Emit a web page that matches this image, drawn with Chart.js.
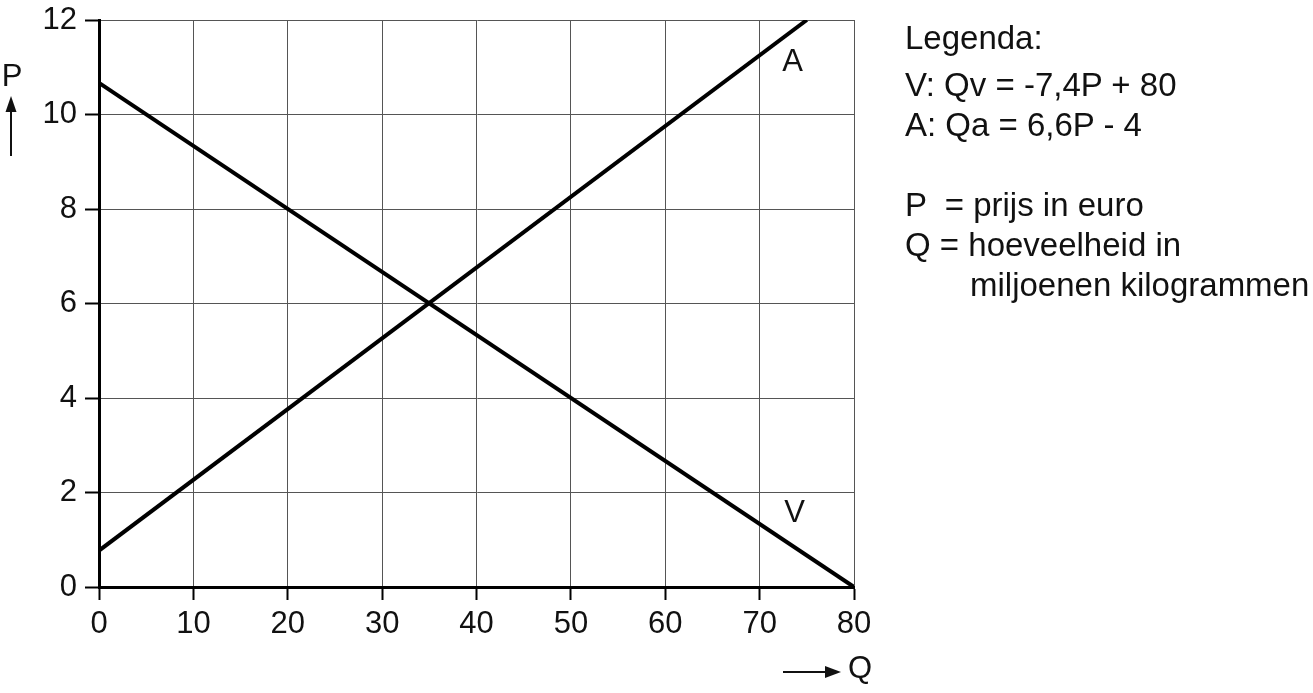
<!DOCTYPE html>
<html><head><meta charset="utf-8">
<script src="https://cdn.jsdelivr.net/npm/chart.js@4/dist/chart.umd.min.js"></script>
<style>
html,body{margin:0;padding:0;background:#fff;}
#wrap{position:relative;width:1313px;height:693px;}
canvas{position:absolute;left:0;top:0;}
.leg{position:absolute;font-family:"Liberation Sans",Arial,sans-serif;font-size:33px;color:#111;white-space:pre;line-height:40px;}
</style></head>
<body>
<div id="wrap">
<canvas id="c" width="1313" height="693"></canvas>
<div class="leg" style="left:905px;top:18px;">Legenda:</div>
<div class="leg" style="left:905px;top:65px;">V: Qv = -7,4P + 80
A: Qa = 6,6P - 4

P  = prijs in euro
Q = hoeveelheid in</div>
<div class="leg" style="left:970px;top:265px;">miljoenen kilogrammen</div>
</div>
<script>
// Data
const qV = [0, 80];
const pV = [10.67, 0];
const qA = [0, 75];
const pA = [0.77, 12];
const xTicks = [0, 10, 20, 30, 40, 50, 60, 70, 80];
const yTicks = [0, 2, 4, 6, 8, 10, 12];
const curveLabels = ["A", "V"];
const curveLabelPos = [[73.5, 11.1], [73.7, 1.55]];

const FONT = '"Liberation Sans", Arial, sans-serif';

const annot = {
  id: 'annot',
  afterDraw(chart) {
    const ctx = chart.ctx;
    const xs = chart.scales.x, ys = chart.scales.y;
    ctx.save();
    ctx.fillStyle = '#111';
    ctx.strokeStyle = '#111';
    ctx.font = '31px ' + FONT;
    ctx.textAlign = 'center';
    ctx.textBaseline = 'middle';
    curveLabels.forEach((t, i) => {
      ctx.fillText(t, xs.getPixelForValue(curveLabelPos[i][0]), ys.getPixelForValue(curveLabelPos[i][1]));
    });
    // P label with up arrow
    ctx.fillText('P', 12, 77);
    ctx.lineWidth = 2;
    ctx.beginPath(); ctx.moveTo(11, 156); ctx.lineTo(11, 108); ctx.stroke();
    ctx.beginPath(); ctx.moveTo(11, 96); ctx.lineTo(5.5, 112); ctx.lineTo(16.5, 112); ctx.closePath(); ctx.fill();
    // Q label with right arrow
    ctx.fillText('Q', 860, 669);
    ctx.beginPath(); ctx.moveTo(783, 672); ctx.lineTo(830, 672); ctx.stroke();
    ctx.beginPath(); ctx.moveTo(841, 672); ctx.lineTo(825, 666); ctx.lineTo(825, 678); ctx.closePath(); ctx.fill();
    ctx.restore();
  }
};

new Chart(document.getElementById('c'), {
  type: 'scatter',
  data: {
    datasets: [
      { label: 'V', data: qV.map((q, i) => ({x: q, y: pV[i]})), showLine: true, borderColor: '#000', borderWidth: 4, pointRadius: 0 },
      { label: 'A', data: qA.map((q, i) => ({x: q, y: pA[i]})), showLine: true, borderColor: '#000', borderWidth: 4, pointRadius: 0 }
    ]
  },
  options: {
    responsive: false,
    animation: false,
    devicePixelRatio: 1,
    layout: { padding: { top: 20, right: 459, left: 0, bottom: 0 } },
    plugins: { legend: { display: false }, tooltip: { enabled: false } },
    scales: {
      x: {
        type: 'linear', min: 0, max: 80,
        afterBuildTicks: s => { s.ticks = xTicks.map(v => ({value: v})); },
        afterFit: s => { s.height = 106; s.paddingLeft = 0; s.paddingRight = 0; },
        ticks: { color: '#111', font: { family: FONT, size: 31 }, padding: 6 },
        grid: { color: '#555', lineWidth: 1, tickLength: 13, tickColor: '#000', tickWidth: 2 },
        border: { display: true, color: '#000', width: 3 }
      },
      y: {
        type: 'linear', min: 0, max: 12,
        afterBuildTicks: s => { s.ticks = yTicks.map(v => ({value: v})); },
        afterFit: s => { s.width = 99; s.paddingTop = 0; s.paddingBottom = 0; },
        ticks: { color: '#111', font: { family: FONT, size: 31 }, padding: 8 },
        grid: { color: '#555', lineWidth: 1, tickLength: 14, tickColor: '#000', tickWidth: 2 },
        border: { display: true, color: '#000', width: 3 }
      }
    }
  },
  plugins: [annot]
});
</script>
</body></html>
